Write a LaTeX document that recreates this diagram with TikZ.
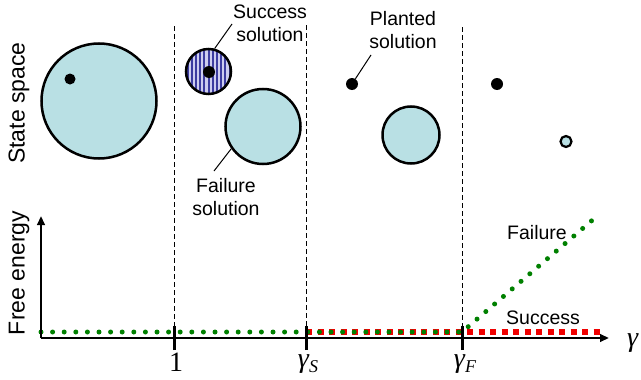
\documentclass[tikz,border=0pt]{standalone}
\usepackage{fontspec}
\setmainfont{Liberation Sans}
\newfontfamily\seriffam{Liberation Serif}
\usetikzlibrary{arrows.meta}
\definecolor{stateblue}{RGB}{185,224,228}
\definecolor{stripedark}{RGB}{60,60,160}
\definecolor{stripelight}{RGB}{205,205,240}
\definecolor{dotgreen}{RGB}{0,128,0}
\definecolor{dashred}{RGB}{240,0,0}
\begin{document}
\begin{tikzpicture}[x=1pt,y=-1pt,
  blob/.style={circle, draw=black, line width=2.5pt, fill=stateblue, inner sep=0pt, minimum size=#1},
  soldot/.style={circle, fill=black, inner sep=0pt, minimum size=#1},
  lbl/.style={font=\fontsize{19.5}{23}\selectfont, align=center, inner sep=0pt},
  axlbl/.style={font=\fontsize{23}{24}\selectfont, rotate=90, inner sep=0pt},
  mathlbl/.style={font=\fontsize{28}{28}\selectfont\seriffam, inner sep=0pt},
  vdash/.style={dash pattern=on 5pt off 3pt, line width=0.9pt},
  leader/.style={line width=1pt},
  axis/.style={line width=2.3pt, -{Triangle[length=9pt,width=7.5pt]}},
  tick/.style={line width=3pt},
  gdots/.style={dotgreen, line width=5pt, line cap=round, dash pattern=on 0pt off 11.6pt},
  rdash/.style={dashred, line width=6pt, dash pattern=on 6pt off 5.5pt}
]
\useasboundingbox (0,0) rectangle (641,380);

% axis labels
\node[axlbl] (ss) at (19,103) {State space};
\node[axlbl] (fe) at (19,273) {Free energy};

% axes
\coordinate (O) at (41,338);
\coordinate (ytop) at (41,216);
\coordinate (xend) at (609,338);
\coordinate (t1) at (174,338);
\coordinate (tS) at (306,338);
\coordinate (tF) at (462,338);
\coordinate (d1) at (174,26);
\coordinate (dS) at (306,25);
\coordinate (dF) at (462,27);

% dashed separators
\draw[vdash] (d1) -- (t1);
\draw[vdash] (dS) -- (tS);
\draw[vdash] (dF) -- (tF);

% curves
\coordinate (g0) at (41,332);
\coordinate (gS) at (306,332);
\coordinate (gF) at (462,332);
\coordinate (gEnd) at (596,217);
\coordinate (rEnd) at (601,332);
\draw[rdash] (gS) -- (rEnd);
\draw[gdots] (g0) -- (gF) -- (gEnd);

\draw[axis] (O) -- (ytop);
\draw[axis] (O) -- (xend);
\draw[tick] ([yshift=-12pt]t1) -- ([yshift=12pt]t1);
\draw[tick] ([yshift=-12pt]tS) -- ([yshift=12pt]tS);
\draw[tick] ([yshift=-12pt]tF) -- ([yshift=12pt]tF);

\node[mathlbl] (l1) at (176,362) {1};
\node[mathlbl] (lS) at (308,364) {\itshape γ\raisebox{-5pt}{\fontsize{18}{18}\selectfont S}};
\node[mathlbl] (lF) at (465,364) {\itshape γ\raisebox{-5pt}{\fontsize{18}{18}\selectfont F}};
\node[mathlbl, anchor=west] (lg) at (627,343) {\itshape γ};

\node[lbl] (failtxt) at (537,233) {Failure};
\node[lbl] (succtxt) at (543,318) {Success};

% state space pictures
\node[blob=115] (big) at (99,101) {};
\node[soldot=11] (bigdot) at (70,79) {};

\node[circle, draw=black, line width=2.5pt, inner sep=0pt, minimum size=45,
  path picture={
    \fill[stripelight] (path picture bounding box.south west) rectangle (path picture bounding box.north east);
    \foreach \k in {-6,...,6} {
      \fill[stripedark] ([xshift=\k*4.2pt-1pt]path picture bounding box.center |- path picture bounding box.north) rectangle ([xshift=\k*4.2pt+1pt]path picture bounding box.center |- path picture bounding box.south);
    }
  }] (succ) at (208.5,71.5) {};
\node[soldot=12] (succdot) at (209,72) {};
\node[lbl] (succlbl) at (270,23) {Success\\solution};
\coordinate (succtip) at (232,24);
\draw[leader] (succ.75) -- (succtip);

\node[blob=75] (fail) at (263,126.5) {};
\node[lbl] (faillbl) at (226,197) {Failure\\solution};
\coordinate (failtip) at (214,171);
\draw[leader] (fail.215) -- (failtip);

\node[soldot=12] (pl) at (352,84) {};
\node[lbl] (pllbl) at (403,30) {Planted\\solution};
\coordinate (pltip) at (371,55);
\draw[leader] (pl) -- (pltip);

\node[blob=57] (mid) at (411,135) {};

\node[soldot=12] (rdot) at (497,84) {};
\node[circle, draw=black, line width=2.2pt, fill=stateblue, inner sep=0pt, minimum size=11] (small) at (566,141.5) {};
\end{tikzpicture}
\end{document}
